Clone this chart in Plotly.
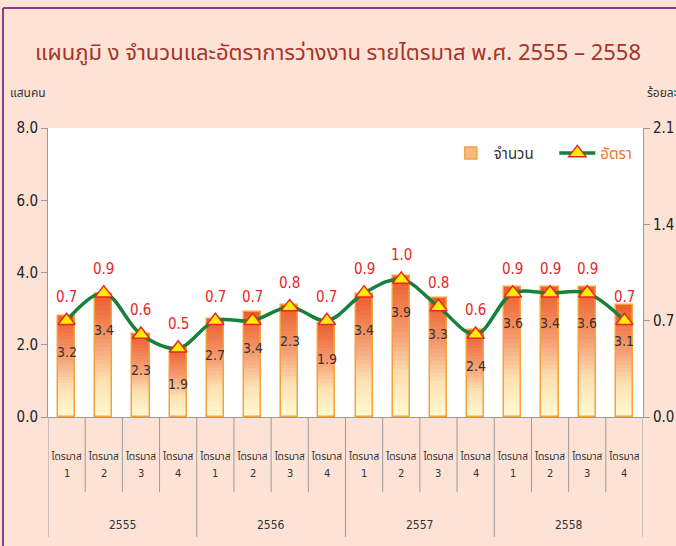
import plotly.graph_objects as go
import plotly.express as px

# --------------------------------------------------------------
# Data
# --------------------------------------------------------------
years = ["2555", "2556", "2557", "2558"]
quarters = ["1", "2", "3", "4"]

# bar heights as drawn (แสนคน)
bar_values = [2.8, 3.4, 2.3, 1.9, 2.7, 2.9, 3.1, 2.6,
              3.4, 3.9, 3.3, 2.4, 3.6, 3.6, 3.6, 3.1]
# labels printed inside the bars
bar_labels = ["3.2", "3.4", "2.3", "1.9", "2.7", "3.4", "2.3", "1.9",
              "3.4", "3.9", "3.3", "2.4", "3.6", "3.4", "3.6", "3.1"]
# unemployment rate (ร้อยละ)
rate_values = [0.7, 0.9, 0.6, 0.5, 0.7, 0.7, 0.8, 0.7,
               0.9, 1.0, 0.8, 0.6, 0.9, 0.9, 0.9, 0.7]

FONT = "Tahoma, 'Noto Sans Thai', Garuda, Loma, 'DejaVu Sans', sans-serif"
NUM_FONT = "'DejaVu Sans Condensed', 'Liberation Sans Narrow', " + FONT
BG = "#fde3d6"

n = len(bar_values)
xs = list(range(n))
ticktext = ["ไตรมาส" for y in years for q in quarters]

fig = go.Figure()

# --------------------------------------------------------------
# Gradient bars: overlaid bars, orange on top fading to pale yellow
# --------------------------------------------------------------
scale = [[0.0, "#fffbd2"], [0.3, "#fde0b2"], [0.6, "#f59c72"], [1.0, "#ec5e28"]]
steps = 30
for k in range(steps):
    frac = (steps - k) / steps
    col = px.colors.sample_colorscale(scale, [(steps - k - 0.5) / steps])[0]
    fig.add_bar(
        x=xs, y=[v * frac for v in bar_values],
        marker=dict(color=col, line=dict(width=0)),
        width=0.46, showlegend=False, hoverinfo="skip",
    )

# outline + legend entry
fig.add_bar(
    x=xs, y=bar_values, width=0.46,
    marker=dict(color="rgba(0,0,0,0)", line=dict(color="#f3a33a", width=1.5)),
    showlegend=False,
)
fig.add_bar(
    x=[None], y=[None], name="จำนวน&nbsp;&nbsp;&nbsp;&nbsp;",
    marker=dict(color="#f8b884", line=dict(color="#f3a33a", width=1.5)),
)

# --------------------------------------------------------------
# Rate line
# --------------------------------------------------------------
fig.add_scatter(
    x=xs, y=rate_values, yaxis="y2",
    mode="lines+markers", line_shape="spline",
    name="<span style='color:#f07828'>อัตรา</span>",
    line=dict(color="#17803a", width=3.5),
    marker=dict(symbol="triangle-up", size=15, color="#ffec00",
                line=dict(color="#e8262a", width=1.5)),
)

# value labels
for x, v, lab in zip(xs, bar_values, bar_labels):
    fig.add_annotation(x=x, y=v, text=lab, showarrow=False, yshift=-36,
                       font=dict(family=NUM_FONT, size=14, color="#333333"))
for x, r in zip(xs, rate_values):
    fig.add_annotation(x=x, y=r, yref="y2", text=f"{r:.1f}", showarrow=False,
                       yshift=24, font=dict(family=NUM_FONT, size=15, color="#e8262a"))

# quarter numbers, year labels + separators under the axis
for i, q in enumerate([q for y in years for q in quarters]):
    fig.add_annotation(x=i, y=-0.194, yref="paper", yanchor="middle", text=q,
                       showarrow=False,
                       font=dict(family=NUM_FONT, size=11, color="#333333"))
for j, yr in enumerate(years):
    fig.add_annotation(x=4 * j + 1.5, y=-0.374, yref="paper", yanchor="middle",
                       text=yr, showarrow=False,
                       font=dict(family=NUM_FONT, size=12, color="#333333"))
for i in range(n + 1):
    long_sep = i % 4 == 0
    fig.add_shape(type="line", xref="x", yref="paper",
                  x0=i - 0.5, x1=i - 0.5, y0=0, y1=-0.415 if long_sep else -0.26,
                  line=dict(color="#9a9a9a", width=1))

# axis captions
fig.add_annotation(x=-0.067, y=1.121, xref="paper", yref="paper", text="แสนคน",
                   xanchor="left", yanchor="middle", showarrow=False,
                   font=dict(size=12, color="#333333"))
fig.add_annotation(x=1.003, y=1.121, xref="paper", yref="paper", text="ร้อยละ",
                   xanchor="left", yanchor="middle", showarrow=False,
                   font=dict(size=12, color="#333333"))

# purple page border (top + left)
fig.add_shape(type="line", xref="paper", yref="paper", x0=-0.0756, x1=-0.0756,
              y0=1.415, y1=-0.5, line=dict(color="#8e3a8e", width=2))
fig.add_shape(type="line", xref="paper", yref="paper", x0=-0.0756, x1=1.2,
              y0=1.415, y1=1.415, line=dict(color="#8e3a8e", width=2))

fig.update_layout(
    width=676, height=546,
    margin=dict(l=48, r=33, t=128, b=129, autoexpand=False),
    paper_bgcolor=BG, plot_bgcolor="white",
    font=dict(family=FONT, color="#333333"),
    barmode="overlay", bargap=0,
    title=dict(text="แผนภูมิ ง จำนวนและอัตราการว่างงาน รายไตรมาส พ.ศ. 2555 – 2558",
               x=0.5, xref="container", y=0.905, yanchor="middle",
               font=dict(size=22, color="#a5342a")),
    legend=dict(orientation="h", x=0.672, y=0.913, yanchor="middle",
                bgcolor="rgba(0,0,0,0)", font=dict(size=15, color="#333333"),
                itemwidth=36),
    xaxis=dict(range=[-0.5, n - 0.5], tickvals=xs, ticktext=ticktext,
               showgrid=False, showline=True, linecolor="#9a9a9a", ticks="",
               ticklabelstandoff=30, tickfont=dict(size=10, color="#333333"),
               zeroline=False, fixedrange=True),
    yaxis=dict(range=[0, 8], tickvals=[0, 2, 4, 6, 8], tickformat=".1f",
               showgrid=False, zeroline=False, showline=True, linecolor="#9a9a9a",
               ticks="outside", ticklen=6, tickcolor="#9a9a9a",
               tickfont=dict(family=NUM_FONT, size=15, color="#222222")),
    yaxis2=dict(range=[0, 2.1], tickvals=[0, 0.7, 1.4, 2.1], tickformat=".1f",
                overlaying="y", side="right", showgrid=False, zeroline=False,
                showline=True, linecolor="#9a9a9a", ticks="outside", ticklen=6,
                tickcolor="#9a9a9a",
                tickfont=dict(family=NUM_FONT, size=15, color="#222222")),
)

fig.write_html("out.html", config={"displayModeBar": False},
               post_script="document.body.style.margin='0';")
